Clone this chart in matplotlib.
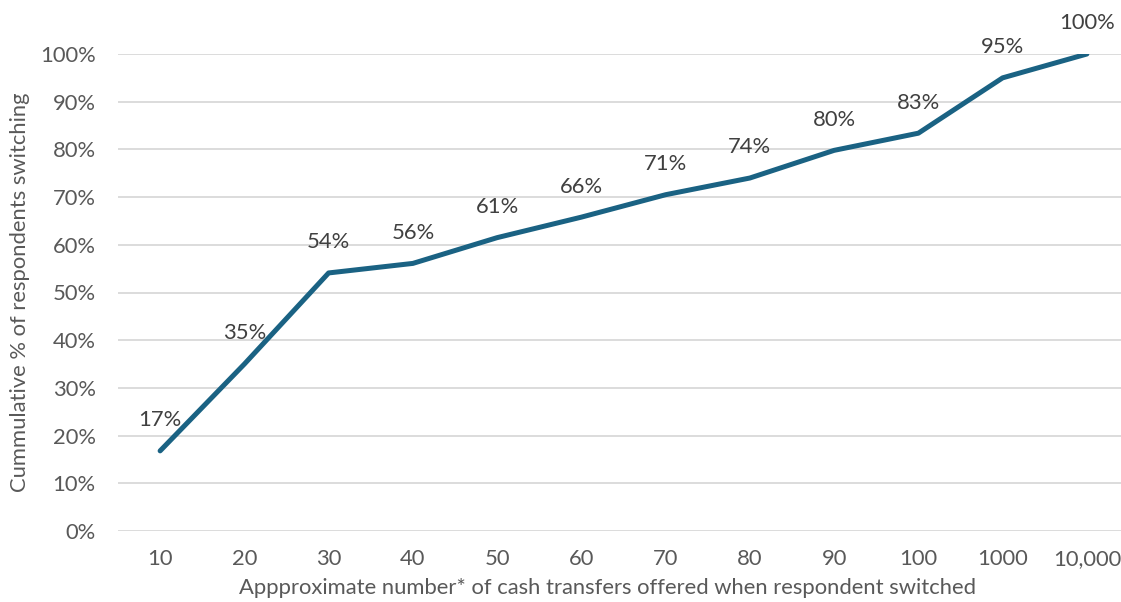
import matplotlib.pyplot as plt
from matplotlib.ticker import PercentFormatter

categories = ["10", "20", "30", "40", "50", "60", "70", "80", "90", "100", "1000", "10,000"]
cumulative_pct = [16.8, 35.0, 54.1, 56.1, 61.5, 65.8, 70.5, 74.0, 79.8, 83.4, 95.0, 100.0]
point_labels = ["17%", "35%", "54%", "56%", "61%", "66%", "71%", "74%", "80%", "83%", "95%", "100%"]

LINE_COLOR = "#1a6283"
GRID_COLOR = "#d9d9d9"
TICK_COLOR = "#595959"
LABEL_COLOR = "#404040"
FS = 15.8

plt.rcParams["font.family"] = ["Lato", "DejaVu Sans"]

fig = plt.figure(figsize=(11.21, 6.02), dpi=100)
W, H = 1121, 602
ax = fig.add_axes([118 / W, 71 / H, 1011 / W, 477 / H])

x = list(range(len(categories)))
ax.plot(x, cumulative_pct, color=LINE_COLOR, linewidth=3.6,
        solid_capstyle="round", solid_joinstyle="round", zorder=3)

# data labels sit just above each point
for xi, yi, lbl in zip(x, cumulative_pct, point_labels):
    ax.annotate(lbl, (xi, yi), xytext=(0, 22), textcoords="offset points",
                ha="center", va="center", fontsize=FS, color=LABEL_COLOR,
                annotation_clip=False)

ax.set_xlim(-0.5, len(categories) - 0.5)
ax.set_ylim(0, 100)
ax.set_yticks(range(0, 101, 10))
ax.yaxis.set_major_formatter(PercentFormatter(decimals=0))
ax.set_xticks(x)
ax.set_xticklabels(categories)
ax.tick_params(axis="both", length=0, labelsize=FS, labelcolor=TICK_COLOR)
ax.tick_params(axis="y", pad=16)
ax.tick_params(axis="x", pad=13)

ax.grid(axis="y", color=GRID_COLOR, linewidth=1.3, zorder=0)
ax.set_axisbelow(True)
for s in ax.spines.values():
    s.set_visible(False)

ax.set_ylabel("Cummulative % of respondents switching", fontsize=FS, color=TICK_COLOR, va="center")
ax.yaxis.set_label_coords(-0.097, 0.5)
ax.set_xlabel("Appproximate number* of cash transfers offered when respondent switched",
              fontsize=FS, color=TICK_COLOR, va="center")
ax.xaxis.set_label_coords(0.484, -0.1195)

fig.savefig("out.png", dpi=100)
